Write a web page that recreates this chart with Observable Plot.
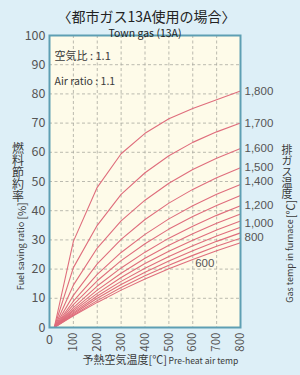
<!DOCTYPE html>
<html><head><meta charset="utf-8">
<script src="https://cdn.jsdelivr.net/npm/d3@7"></script>
<script src="https://cdn.jsdelivr.net/npm/@observablehq/plot@0.6"></script>
<style>
body{margin:0;background:#ddeff7;}
#chart{width:300px;height:375px;}
</style>
</head><body><div id="chart"></div>
<script>
// Pre-heat air temperature (°C) sample points
const airTemps = [20, 100, 200, 300, 400, 500, 600, 700, 800];
// Gas temperature in furnace (°C) – one curve each
const gasTemps = [1800, 1700, 1600, 1500, 1400, 1300, 1200, 1100, 1000, 900, 800, 700, 600];
// Fuel saving ratio (%)
const s1800 = [0, 29.5, 48, 59.5, 66.5, 71.5, 75, 78, 81];
const s1700 = [0, 20.5, 35, 45.6, 53, 58.8, 63.4, 67, 70];
const s1600 = [0, 14.5, 27.2, 36.5, 43.6, 49.4, 54.1, 58, 61.3];
const s1500 = [0, 11, 21.8, 30.2, 37, 42.6, 47.3, 51.3, 54.7];
const s1400 = [0, 9, 18.2, 25.7, 31.9, 37.2, 41.7, 45.6, 49];
const s1300 = [0, 7.8, 16, 22.9, 28.7, 33.7, 38, 41.8, 45.2];
const s1200 = [0, 6.8, 14.2, 20.4, 25.8, 30.6, 34.7, 38.4, 41.7];
const s1100 = [0, 6.1, 12.8, 18.6, 23.7, 28.2, 32.1, 35.7, 38.9];
const s1000 = [0, 5.6, 11.7, 17.1, 21.9, 26.1, 29.9, 33.4, 36.5];
const s900  = [0, 5.1, 10.8, 15.8, 20.3, 24.3, 28, 31.3, 34.3];
const s800  = [0, 4.7, 10, 14.7, 18.9, 22.8, 26.3, 29.5, 32.4];
const s700  = [0, 4.3, 9.2, 13.7, 17.7, 21.3, 24.7, 27.8, 30.6];
const s600  = [0, 4, 8.6, 12.8, 16.6, 20.1, 23.3, 26.3, 29];
const series = [s1800, s1700, s1600, s1500, s1400, s1300, s1200, s1100, s1000, s900, s800, s700, s600];

const xTicks = [0, 100, 200, 300, 400, 500, 600, 700, 800];
const yTicks = [0, 10, 20, 30, 40, 50, 60, 70, 80, 90, 100];
const labelledGas = [1800, 1700, 1600, 1500, 1400, 1200, 1000, 800];

const title = "〈都市ガス13A使用の場合〉";
const subtitle = "Town gas (13A)";
const note1 = "空気比 : 1.1";
const note2 = "Air ratio : 1.1";
const yTitleJa = "燃料節約率";
const yUnit = "[%]";
const yTitleEn = "Fuel saving ratio";
const rTitleJa = "排ガス温度";
const rUnit = "[℃]";
const rTitleEn = "Gas temp in furnace";
const xTitleJa = "予熱空気温度[℃]";
const xTitleEn = "Pre-heat air temp";

const rows = gasTemps.flatMap((g, i) => series[i].map((v, j) => ({gas: g, air: airTemps[j], saving: v})));
const ends = gasTemps.map((g, i) => ({gas: g, air: 800, saving: series[i][series[i].length - 1]}));
const endsLab = ends.filter(d => labelledGas.includes(d.gas));
const shiftUp = [1400];
const shiftDown = [1000];
const shiftDown2 = [800];

const font = "'Noto Sans CJK JP', 'Noto Sans', sans-serif";
const numFont = "'Liberation Sans', Arial, sans-serif";
const txt = "#3a3a3a";
const num = "#555";
const lineColor = "#df6d7c";
const fmt = d => d3.format(",")(d.gas);
const endLabel = (data, dy) => Plot.text(data, {x: "air", y: "saving", text: fmt, textAnchor: "start", dx: 4, dy, fontSize: 11.5, fill: num, fontFamily: numFont});

const chart = Plot.plot({
  width: 300, height: 375,
  marginTop: 35, marginBottom: 48, marginLeft: 49, marginRight: 60,
  x: {domain: [0, 800], axis: null},
  y: {domain: [0, 100], axis: null},
  style: {background: "transparent", fontFamily: font},
  marks: [
    Plot.frame({fill: "#fefbe9", stroke: null}),
    Plot.ruleX(xTicks.slice(1, -1), {stroke: "#a9a9a0", strokeDasharray: "3,2.5", strokeWidth: 0.8}),
    Plot.ruleY(yTicks.slice(1, -1), {stroke: "#a9a9a0", strokeDasharray: "3,2.5", strokeWidth: 0.8}),
    Plot.line(rows, {x: "air", y: "saving", z: "gas", stroke: lineColor, strokeWidth: 1.1}),
    Plot.frame({stroke: "#5e9fb3", strokeWidth: 2}),
    // y tick labels
    Plot.text(yTicks, {x: 0, y: d => d, text: d => String(d), textAnchor: "end", dx: -4, fontSize: 12.5, fill: num}),
    // x tick labels
    Plot.text([0], {x: d => d, y: 0, text: d => String(d), dy: 12, fontSize: 12.5, fill: num}),
    Plot.text(xTicks.slice(1), {x: d => d, y: 0, text: d => String(d), dy: 5, rotate: -90, textAnchor: "end", fontSize: 11.5, fill: num}),
    // right-hand curve labels
    endLabel(endsLab.filter(d => ![...shiftUp, ...shiftDown, ...shiftDown2].includes(d.gas)), 0),
    endLabel(endsLab.filter(d => shiftUp.includes(d.gas)), -3.5),
    endLabel(endsLab.filter(d => shiftDown.includes(d.gas)), 2.5),
    endLabel(endsLab.filter(d => shiftDown2.includes(d.gas)), 4.5),
    // 600 label inside
    Plot.text([{air: airTemps[6], saving: s600[6]}], {x: "air", y: "saving", text: () => "600", dx: 12, dy: 4, fontSize: 11.5, fill: num, fontFamily: numFont}),
    // title and subtitle
    Plot.text([title], {frameAnchor: "top", dx: 1.5, dy: -23, fontSize: 14, fill: "#222"}),
    Plot.text([subtitle], {frameAnchor: "top", dy: -5.5, fontSize: 10.5, fill: "#222"}),
    // notes
    Plot.text([note1], {frameAnchor: "top-left", dx: 5, dy: 17, textAnchor: "start", fontSize: 11, fill: txt}),
    Plot.text([note2], {frameAnchor: "top-left", dx: 5, dy: 42, textAnchor: "start", fontSize: 10.5, fill: txt}),
    // side titles (positioned after rendering)
    Plot.text([yTitleJa], {frameAnchor: "top-left", textAnchor: "start", fontSize: 12, fill: txt}),
    Plot.text([yUnit], {frameAnchor: "top-left", textAnchor: "middle", fontSize: 11, fill: txt}),
    Plot.text([yTitleEn], {frameAnchor: "top-left", textAnchor: "middle", fontSize: 9, fill: txt}),
    Plot.text([rTitleJa], {frameAnchor: "top-left", textAnchor: "start", fontSize: 11, fill: txt}),
    Plot.text([rUnit], {frameAnchor: "top-left", textAnchor: "middle", fontSize: 11, fill: txt}),
    Plot.text([rTitleEn], {frameAnchor: "top-left", textAnchor: "middle", fontSize: 9, fill: txt}),
    // x axis title
    Plot.text([xTitleJa], {frameAnchor: "bottom-left", dx: 33, dy: 36, textAnchor: "start", fontSize: 11, fill: txt}),
    Plot.text([xTitleEn], {frameAnchor: "bottom-left", dx: 119, dy: 36.5, textAnchor: "start", fontSize: 8.6, fill: txt})
  ]
});

function place(content, x, y, rot, vertical) {
  d3.select(chart).selectAll("text").filter(function() { return this.textContent === content; }).each(function() {
    this.parentNode.removeAttribute("transform");
    this.setAttribute("transform", `translate(${x},${y})` + (rot ? ` rotate(${rot})` : ""));
    if (vertical) {
      this.removeAttribute("dy");
      this.removeAttribute("y");
      this.style.writingMode = "vertical-rl";
    }
  });
}
place(yTitleJa, 18, 142, 0, true);
place(yUnit, 18, 211, -90, false);
place(yTitleEn, 18, 256, -90, false);
place(rTitleJa, 287, 144, 0, true);
place(rUnit, 287, 209, -90, false);
place(rTitleEn, 287, 261, -90, false);

document.getElementById("chart").append(chart);
</script>
</body></html>
